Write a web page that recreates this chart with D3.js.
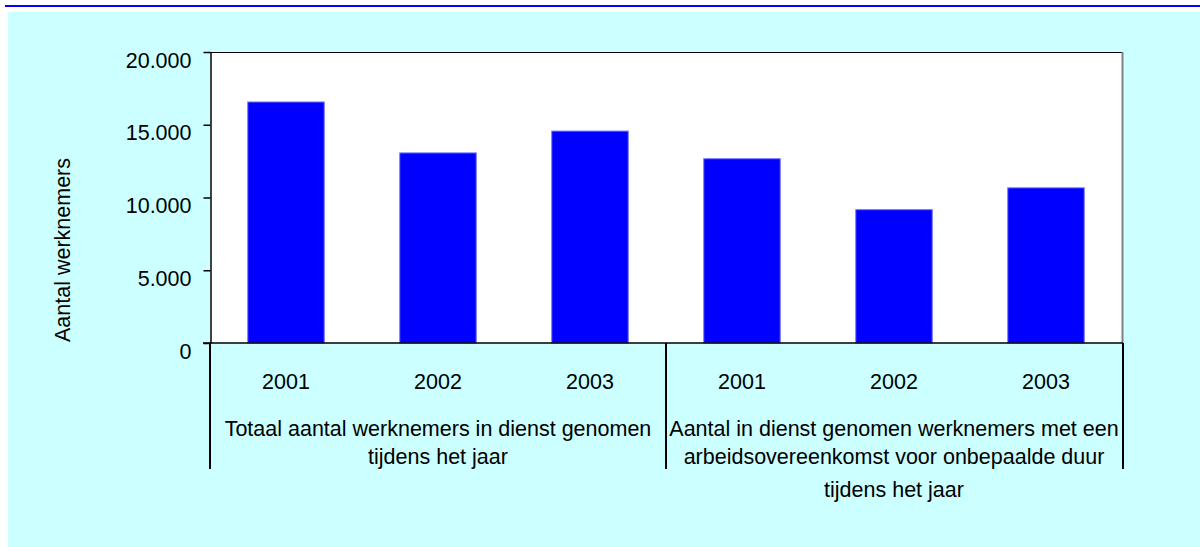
<!DOCTYPE html>
<html>
<head>
<meta charset="utf-8">
<script src="https://cdn.jsdelivr.net/npm/d3@7"></script>
<style>
  body { margin: 0; background: #fff; }
  svg { display: block; font-family: "Liberation Sans", Arial, sans-serif; }
</style>
</head>
<body>
<div id="chart"></div>
<script>
// data
const years = ['2001', '2002', '2003'];
const groupLabels = [
  ['Totaal aantal werknemers in dienst genomen', 'tijdens het jaar'],
  ['Aantal in dienst genomen werknemers met een', 'arbeidsovereenkomst voor onbepaalde duur', 'tijdens het jaar']
];
const totaal = [16600, 13100, 14600];
const onbepaald = [12700, 9200, 10700];
const yTicks = [0, 5000, 10000, 15000, 20000];
const yTitle = 'Aantal werknemers';

const width = 1200, height = 547;
const margin = { top: 52, right: 78, bottom: 204, left: 210 };
const fontSize = '21.5px';

const svg = d3.select('#chart')
  .append('svg')
  .attr('width', width)
  .attr('height', height);

// top rule and cyan panel
svg.append('rect')
  .attr('x', 5).attr('y', 5)
  .attr('width', width - 5).attr('height', 2)
  .attr('fill', '#0000ff');

svg.append('rect')
  .attr('x', 8).attr('y', 12)
  .attr('width', width - 8).attr('height', height - 12)
  .attr('fill', '#ccffff');

const bars = [];
[totaal, onbepaald].forEach((vals, g) => {
  vals.forEach((v, i) => bars.push({ key: `${g}|${years[i]}`, group: g, year: years[i], value: v }));
});

const x = d3.scaleBand()
  .domain(bars.map(d => d.key))
  .range([margin.left, width - margin.right])
  .paddingInner(0.49)
  .paddingOuter(0.245);

const y = d3.scaleLinear()
  .domain([0, 20000])
  .range([height - margin.bottom, margin.top]);

const x0 = margin.left, x1 = width - margin.right;
const y0 = y(0), yTop = y(20000);

// plot area
svg.append('rect')
  .attr('x', x0).attr('y', yTop)
  .attr('width', x1 - x0).attr('height', y0 - yTop)
  .attr('fill', '#fff');

svg.append('line')
  .attr('x1', x0).attr('x2', x1)
  .attr('y1', yTop + 0.5).attr('y2', yTop + 0.5)
  .attr('stroke', '#000');

svg.append('line')
  .attr('x1', x1 + 0.5).attr('x2', x1 + 0.5)
  .attr('y1', yTop).attr('y2', y0)
  .attr('stroke', '#808080')
  .attr('stroke-width', 2);

// bars
svg.append('g')
  .selectAll('rect')
  .data(bars)
  .join('rect')
  .attr('x', d => x(d.key) + 0.5)
  .attr('y', d => y(d.value) + 0.5)
  .attr('width', x.bandwidth() - 1)
  .attr('height', d => y0 - y(d.value) - 0.5)
  .attr('fill', '#0000ff')
  .attr('stroke', '#7777ff')
  .attr('stroke-width', 1);

// y axis, labels hang just below each tick
const yAxis = svg.append('g')
  .attr('transform', `translate(${x0 + 0.5},0)`)
  .call(d3.axisLeft(y)
    .tickValues(yTicks)
    .tickSize(7)
    .tickSizeOuter(0)
    .tickFormat(d => d3.format(',')(d).replace(/,/g, '.')));

yAxis.select('.domain').attr('stroke', '#000').attr('stroke-width', 1.5);
yAxis.selectAll('.tick line').attr('stroke', '#000').attr('stroke-width', 1.5);
yAxis.selectAll('.tick text')
  .attr('x', -19)
  .attr('dy', 15)
  .attr('fill', '#000')
  .style('font-size', fontSize)
  .style('font-family', '"Liberation Sans", Arial, sans-serif');

svg.append('text')
  .attr('transform', 'translate(70,250) rotate(-90)')
  .attr('text-anchor', 'middle')
  .style('font-size', fontSize)
  .text(yTitle);

// x axis line
svg.append('line')
  .attr('x1', x0 - 7).attr('x2', x1 + 1)
  .attr('y1', y0).attr('y2', y0)
  .attr('stroke', '#000')
  .attr('stroke-width', 1.5);

// group separators
const step = x.step();
const sepX = [x0, x0 + step * years.length, x1 + 1];
svg.append('g')
  .selectAll('line')
  .data(sepX)
  .join('line')
  .attr('x1', d => d).attr('x2', d => d)
  .attr('y1', y0).attr('y2', 469)
  .attr('stroke', '#000')
  .attr('stroke-width', 2);

// year labels
svg.append('g')
  .selectAll('text')
  .data(bars)
  .join('text')
  .attr('x', d => x(d.key) + x.bandwidth() / 2)
  .attr('y', 389)
  .attr('text-anchor', 'middle')
  .style('font-size', fontSize)
  .text(d => d.year);

// group labels
const lineY = [436, 464, 497];
groupLabels.forEach((lines, g) => {
  const cx = x0 + step * years.length * (g + 0.5);
  svg.append('g')
    .selectAll('text')
    .data(lines)
    .join('text')
    .attr('x', cx)
    .attr('y', (d, i) => lineY[i])
    .attr('text-anchor', 'middle')
    .style('font-size', fontSize)
    .text(d => d);
});
</script>
</body>
</html>
